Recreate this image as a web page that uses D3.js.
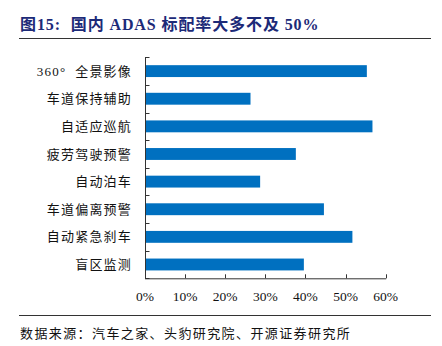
<!DOCTYPE html>
<html>
<head>
<meta charset="utf-8">
<script src="https://cdn.jsdelivr.net/npm/d3@7"></script>
<style>
  html, body { margin: 0; padding: 0; background: #fff; }
  svg { display: block; }
  text { white-space: pre; }
</style>
</head>
<body>
<svg id="chart" width="442" height="346"></svg>
<script>
const categories = ["360°  全景影像", "车道保持辅助", "自适应巡航", "疲劳驾驶预警", "自动泊车", "车道偏离预警", "自动紧急刹车", "盲区监测"];
const values = [55.3, 26.3, 56.7, 37.6, 28.7, 44.6, 51.7, 39.6];
const xTicks = [0, 10, 20, 30, 40, 50, 60];
const titleText = "图15:  国内 ADAS 标配率大多不及 50%";
const sourceText = "数据来源：汽车之家、头豹研究院、开源证券研究所";

const svg = d3.select("#chart");
const plot = { left: 145, right: 385.7, top: 57.3, bottom: 278.3 };
const cjk = "'Liberation Serif', 'Noto Sans CJK SC', serif";

// Title
svg.append("text")
  .attr("x", 20).attr("y", 30)
  .attr("font-family", cjk)
  .attr("font-weight", "bold")
  .attr("font-size", 16)
  .attr("letter-spacing", 0.9)
  .attr("fill", "#1c2a78")
  .text(titleText);

svg.append("line")
  .attr("x1", 19).attr("x2", 431)
  .attr("y1", 38.5).attr("y2", 38.5)
  .attr("stroke", "#333").attr("stroke-width", 1);

const x = d3.scaleLinear().domain([0, 60]).range([plot.left, plot.right]);
const y = d3.scaleBand().domain(categories).range([plot.top, plot.bottom]).paddingInner(0.57).paddingOuter(0.285);
const yTicksScale = d3.scaleBand().domain(categories).range([plot.top, plot.bottom]);

// bars
svg.append("g").selectAll("rect")
  .data(categories)
  .join("rect")
  .attr("x", x(0))
  .attr("y", d => y(d))
  .attr("width", (d, i) => x(values[i]) - x(0))
  .attr("height", y.bandwidth())
  .attr("fill", "#0070C0");

// y axis
const gy = svg.append("g");
gy.append("line")
  .attr("x1", plot.left + 0.5).attr("x2", plot.left + 0.5)
  .attr("y1", plot.top).attr("y2", plot.bottom)
  .attr("stroke", "#333");
const boundaries = categories.map(c => yTicksScale(c)).concat([plot.bottom]);
gy.selectAll("line.tk").data(boundaries).join("line").attr("class", "tk")
  .attr("x1", plot.left).attr("x2", plot.left + 4.5)
  .attr("y1", d => Math.round(d) + 0.5).attr("y2", d => Math.round(d) + 0.5)
  .attr("stroke", "#333");
gy.selectAll("text").data(categories).join("text")
  .attr("x", 132)
  .attr("y", d => yTicksScale(d) + yTicksScale.bandwidth() / 2)
  .attr("dy", "0.35em")
  .attr("text-anchor", "end")
  .attr("font-family", cjk)
  .attr("font-size", 13)
  .attr("letter-spacing", 1.2)
  .attr("fill", "#111")
  .text(d => d);

// x axis
const gx = svg.append("g");
gx.append("line")
  .attr("x1", plot.left).attr("x2", plot.right + 0.5)
  .attr("y1", plot.bottom + 0.5).attr("y2", plot.bottom + 0.5)
  .attr("stroke", "#333");
gx.selectAll("line.tk").data(xTicks).join("line").attr("class", "tk")
  .attr("x1", d => Math.round(x(d)) + 0.5).attr("x2", d => Math.round(x(d)) + 0.5)
  .attr("y1", plot.bottom - 4).attr("y2", plot.bottom)
  .attr("stroke", "#333");
gx.selectAll("text").data(xTicks).join("text")
  .attr("x", d => x(d))
  .attr("y", 301)
  .attr("text-anchor", "middle")
  .attr("font-family", "'Liberation Serif', serif")
  .attr("font-size", 13.5)
  .attr("fill", "#111")
  .text(d => d + "%");

// footer
svg.append("line")
  .attr("x1", 19).attr("x2", 431)
  .attr("y1", 315.5).attr("y2", 315.5)
  .attr("stroke", "#333").attr("stroke-width", 1);
svg.append("text")
  .attr("x", 20).attr("y", 338)
  .attr("font-family", cjk)
  .attr("font-size", 13)
  .attr("letter-spacing", 1.4)
  .attr("fill", "#111")
  .text(sourceText);
</script>
</body>
</html>
